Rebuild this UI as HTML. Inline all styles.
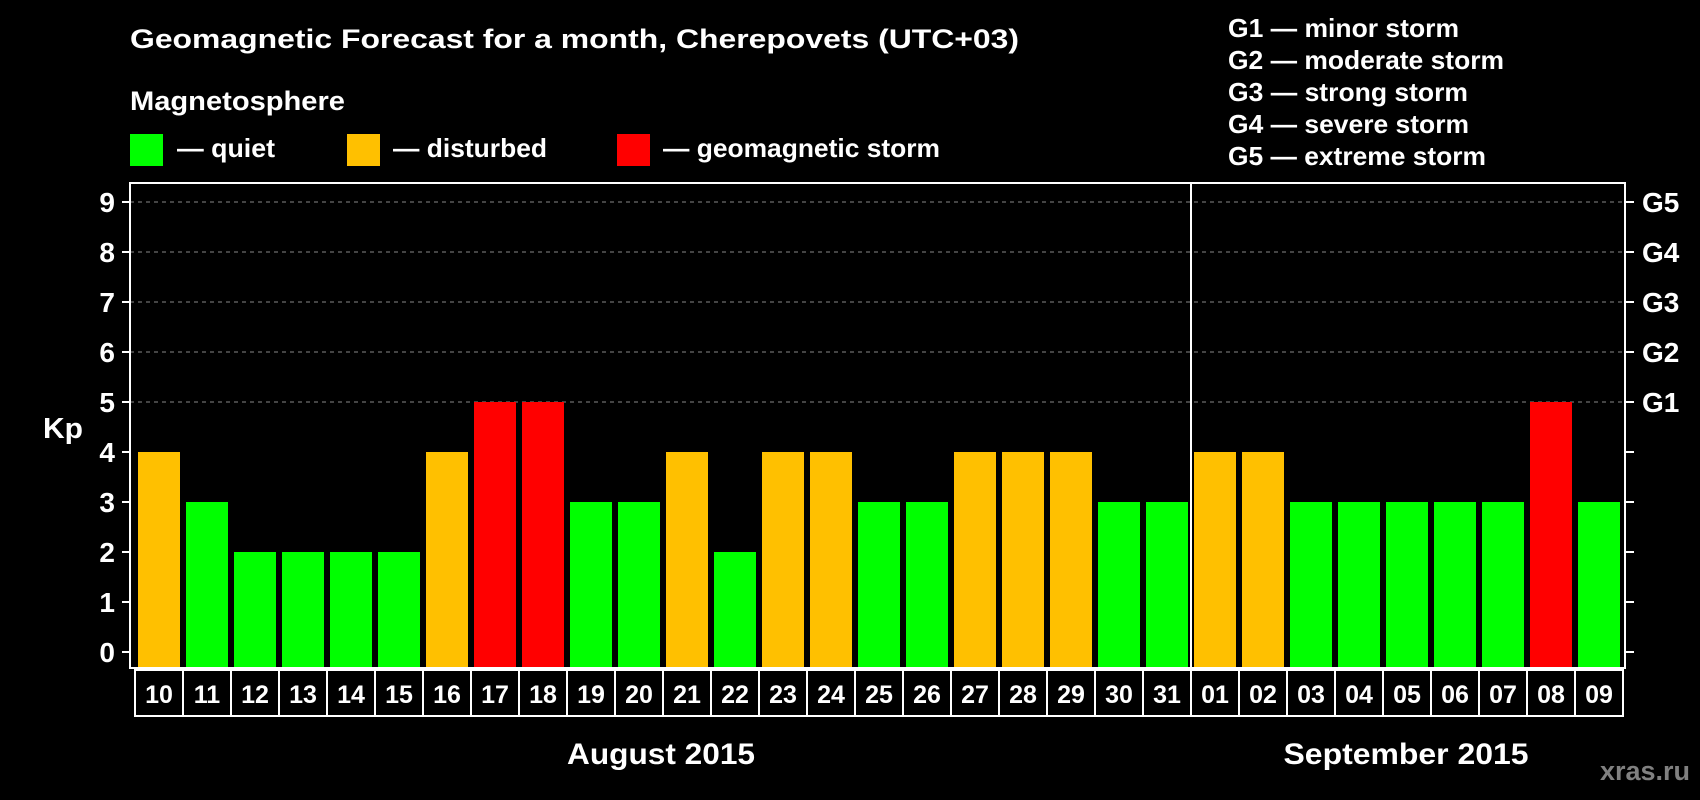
<!DOCTYPE html>
<html><head><meta charset="utf-8"><style>
html,body{margin:0;padding:0;background:#000;width:1700px;height:800px;overflow:hidden}
svg{display:block;font-family:"Liberation Sans",Arial,sans-serif;font-weight:bold}
</style></head><body>
<svg id="chart" width="1700" height="800" xmlns="http://www.w3.org/2000/svg">
<rect width="1700" height="800" fill="#000"/>
<text x="130" y="48" fill="#fff" font-size="27" textLength="889" lengthAdjust="spacingAndGlyphs">Geomagnetic Forecast for a month, Cherepovets (UTC+03)</text>
<text x="130" y="110" fill="#fff" font-size="27" textLength="215" lengthAdjust="spacingAndGlyphs">Magnetosphere</text>
<rect x="130" y="134" width="33" height="32" fill="#00ff00"/>
<text x="177" y="157" fill="#fff" font-size="26" textLength="98" lengthAdjust="spacingAndGlyphs">— quiet</text>
<rect x="347" y="134" width="33" height="32" fill="#ffc000"/>
<text x="393" y="157" fill="#fff" font-size="26" textLength="154" lengthAdjust="spacingAndGlyphs">— disturbed</text>
<rect x="617" y="134" width="33" height="32" fill="#ff0000"/>
<text x="663" y="157" fill="#fff" font-size="26" textLength="277" lengthAdjust="spacingAndGlyphs">— geomagnetic storm</text>
<g fill="#fff" font-size="26">
<text x="1228" y="37" textLength="231" lengthAdjust="spacingAndGlyphs">G1 — minor storm</text>
<text x="1228" y="69" textLength="276" lengthAdjust="spacingAndGlyphs">G2 — moderate storm</text>
<text x="1228" y="101" textLength="240" lengthAdjust="spacingAndGlyphs">G3 — strong storm</text>
<text x="1228" y="133" textLength="241" lengthAdjust="spacingAndGlyphs">G4 — severe storm</text>
<text x="1228" y="165" textLength="258" lengthAdjust="spacingAndGlyphs">G5 — extreme storm</text>
</g>
<text x="43" y="438" fill="#fff" font-size="29" textLength="40" lengthAdjust="spacingAndGlyphs">Kp</text>
<g id="grid"></g><g id="bars"></g><g id="axes"></g>
<text x="661" y="764" fill="#fff" font-size="30" text-anchor="middle" textLength="188" lengthAdjust="spacingAndGlyphs">August 2015</text>
<text x="1406" y="764" fill="#fff" font-size="30" text-anchor="middle" textLength="245" lengthAdjust="spacingAndGlyphs">September 2015</text>
<text x="1690" y="780" fill="#808080" font-size="27" text-anchor="end">xras.ru</text>
</svg>
<script>
const days=["10","11","12","13","14","15","16","17","18","19","20","21","22","23","24","25","26","27","28","29","30","31","01","02","03","04","05","06","07","08","09"];
const kp=[4,3,2,2,2,2,4,5,5,3,3,4,2,4,4,3,3,4,4,4,3,3,4,4,3,3,3,3,3,5,3];
const yTicks=[0,1,2,3,4,5,6,7,8,9];
const gLabels=["G1","G2","G3","G4","G5"];
const gLevels=[5,6,7,8,9];
const NS="http://www.w3.org/2000/svg";
const L=130,R=1625,T=183,B=668,cell0=135,cw=48;
const y=v=>652-v*50;
const x=i=>cell0+i*cw;
function mk(tag,at,parent,txt){const e=document.createElementNS(NS,tag);for(const k in at)e.setAttribute(k,at[k]);if(txt!==undefined)e.textContent=txt;document.getElementById(parent).appendChild(e);return e;}
gLevels.forEach(v=>{
 const g=mk('line',{x1:L,x2:R,y1:y(v),y2:y(v),stroke:'#888','stroke-width':1,'stroke-dasharray':'4,4'},'grid');
 
 
});
kp.forEach((v,i)=>{
 const c=v>=5?'#ff0000':(v>=4?'#ffc000':'#00ff00');
 const b=mk('rect',{x:x(i)+3,y:y(v),width:42,height:B-y(v),fill:c},'bars');
 
 
 const cb=mk('rect',{x:x(i),y:670,width:cw,height:46,fill:'none',stroke:'#fff','stroke-width':2},'axes');
 
 
 const t=mk('text',{x:x(i)+cw/2,y:703,fill:'#fff','font-size':25,'text-anchor':'middle'},'axes',days[i]);
 
 
});
const fr=mk('rect',{x:L,y:T,width:R-L,height:B-T,fill:'none',stroke:'#fff','stroke-width':2},'axes');


const sep=mk('line',{x1:x(22),x2:x(22),y1:T,y2:B,stroke:'#fff','stroke-width':2},'axes');


yTicks.forEach(v=>{
 mk('line',{x1:122,x2:L,y1:y(v),y2:y(v),stroke:'#fff','stroke-width':2},'axes');
 mk('line',{x1:R,x2:1634,y1:y(v),y2:y(v),stroke:'#fff','stroke-width':2},'axes');
 const t=mk('text',{x:115,y:y(v)+10,fill:'#fff','font-size':28,'text-anchor':'end'},'axes',String(v));
 
 
});
gLevels.forEach((v,i)=>{
 const t=mk('text',{x:1642,y:y(v)+10,fill:'#fff','font-size':28},'axes',gLabels[i]);
 
 
});
</script>
</body></html>
